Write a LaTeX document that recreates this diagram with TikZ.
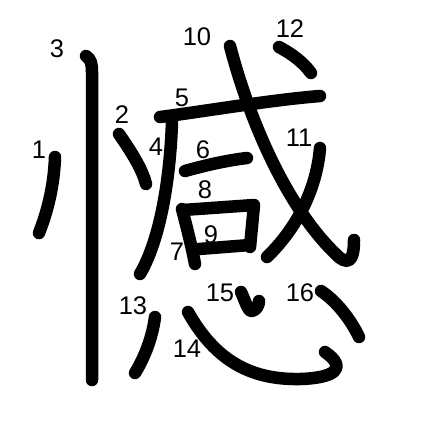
\documentclass[tikz,border=0pt]{standalone}
\usepackage{fontspec}
\setmainfont{Liberation Sans}
\begin{document}
\begin{tikzpicture}[x=1pt,y=-1pt,
  brush/.style={line width=12.5pt,line cap=round,line join=round,draw=black},
  num/.style={font=\fontsize{25.5}{25.5}\selectfont,inner sep=0pt}]
\useasboundingbox[fill=white] (0,0) rectangle (447,447);
% strokes
\draw[brush] (55,157) .. controls (54,185) and (48,210) .. (39,233); % 1
\draw[brush] (119,134) .. controls (130,150) and (142,168) .. (146,184); % 2
\draw[brush] (86,56) .. controls (91,59) and (92,64) .. (92,72) -- (92,380); % 3
\draw[brush] (172,122) .. controls (170,180) and (160,240) .. (140,274); % 4
\draw[brush] (160,117) .. controls (200,112) and (270,100) .. (320,96); % 5
\draw[brush] (185,171) .. controls (210,164) and (230,160) .. (247,158); % 6
\draw[brush] (182,209) .. controls (187,228) and (192,248) .. (195,264); % 7
\draw[brush] (183,210) -- (254,205) -- (250,247); % 8
\draw[brush] (199,249) -- (250,245); % 9
\draw[brush] (230,46) .. controls (252,130) and (292,215) .. (340,258) .. controls (350,265) and (354,258) .. (354,240); % 10
\draw[brush] (320,148) .. controls (317,185) and (300,225) .. (267,257); % 11
\draw[brush] (279,47) .. controls (292,54) and (303,62) .. (311,73); % 12
\draw[brush] (155,317) .. controls (152,340) and (143,360) .. (135,373); % 13
\draw[brush] (188,312) .. controls (215,360) and (250,380) .. (300,379) .. controls (335,378) and (348,368) .. (325,352); % 14
\draw[brush] (241,292) .. controls (245,300) and (248,312) .. (252,311) .. controls (256,310) and (259,306) .. (259,301); % 15
\draw[brush] (321,291) .. controls (335,300) and (350,318) .. (359,337); % 16
% numbers
\node[num] (n1) at (39,150) {1};
\node[num] (n2) at (122,115) {2};
\node[num] (n3) at (57,49) {3};
\node[num] (n4) at (156,147) {4};
\node[num] (n5) at (182,98) {5};
\node[num] (n6) at (203,150) {6};
\node[num] (n7) at (177,252) {7};
\node[num] (n8) at (205,190) {8};
\node[num] (n9) at (211,235) {9};
\node[num] (n10) at (197,37) {10};
\node[num] (n11) at (299,138) {11};
\node[num] (n12) at (290,29) {12};
\node[num] (n13) at (133,306) {13};
\node[num] (n14) at (187,349) {14};
\node[num] (n15) at (220,293) {15};
\node[num] (n16) at (300,293) {16};
\end{tikzpicture}
\end{document}
